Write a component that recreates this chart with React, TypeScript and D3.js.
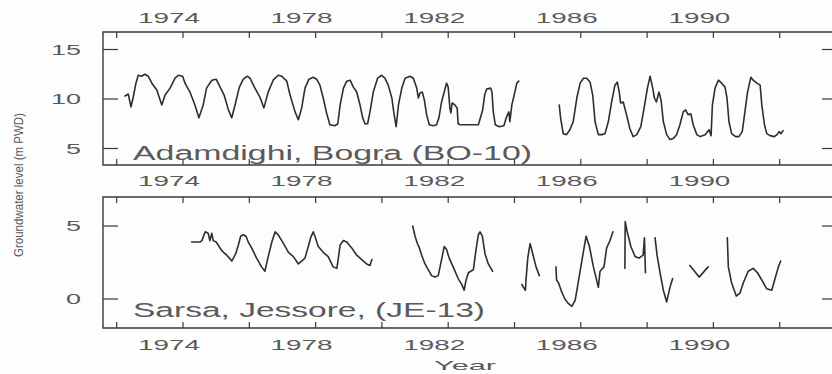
import React from 'react';
import * as d3 from 'd3';

// tick positions / labels
const yearTicks = [1972, 1974, 1976, 1978, 1980, 1982, 1984, 1986, 1988, 1990, 1992];
const yearLabels = [1974, 1978, 1982, 1986, 1990];
const bograTicks = [5, 10, 15];
const jessoreTicks = [0, 5];

// Adamdighi, Bogra (BO-10): [year, level m PWD]
const bograA: [number, number][] = [
  [1972.25, 10.3], [1972.35, 10.5], [1972.43, 9.2], [1972.5, 10.2], [1972.58, 11.6], [1972.65, 12.4],
  [1972.75, 12.3], [1972.85, 12.5], [1972.95, 12.3], [1973.06, 11.6], [1973.21, 10.9], [1973.36, 9.4],
  [1973.46, 10.4], [1973.61, 11.1], [1973.76, 12.1], [1973.86, 12.4], [1973.99, 12.3], [1974.06, 11.6],
  [1974.21, 10.7], [1974.36, 9.4], [1974.48, 8.1], [1974.61, 9.4], [1974.71, 11.1], [1974.87, 11.9],
  [1975.0, 12.0], [1975.12, 11.2], [1975.24, 10.4], [1975.37, 8.9], [1975.47, 8.1], [1975.57, 9.4],
  [1975.7, 11.2], [1975.82, 12.0], [1975.94, 12.3], [1976.02, 12.1], [1976.17, 11.1], [1976.32, 10.2],
  [1976.44, 9.1], [1976.57, 10.7], [1976.72, 11.9], [1976.87, 12.4], [1976.98, 12.3], [1977.13, 11.8],
  [1977.23, 10.4], [1977.38, 8.7], [1977.48, 7.9], [1977.58, 9.1], [1977.68, 11.1], [1977.8, 12.0],
  [1977.93, 12.2], [1978.03, 12.0], [1978.13, 11.4], [1978.23, 10.1], [1978.33, 8.6], [1978.43, 7.4],
  [1978.58, 7.3], [1978.67, 7.5], [1978.74, 9.4], [1978.84, 11.1], [1978.94, 11.8], [1979.04, 11.9],
  [1979.14, 11.2], [1979.24, 10.7], [1979.34, 9.4], [1979.42, 8.1], [1979.49, 7.5], [1979.57, 7.5],
  [1979.64, 8.7], [1979.74, 10.7], [1979.87, 12.1], [1979.99, 12.4], [1980.09, 12.1], [1980.19, 11.4],
  [1980.3, 10.1], [1980.37, 8.4], [1980.43, 7.2], [1980.5, 9.4], [1980.6, 11.1], [1980.7, 12.1],
  [1980.85, 12.3], [1980.95, 12.1], [1981.05, 11.1], [1981.1, 10.1], [1981.15, 10.6], [1981.22, 10.7],
  [1981.28, 9.9], [1981.35, 8.4], [1981.43, 7.4], [1981.55, 7.3], [1981.65, 7.4], [1981.72, 8.1],
  [1981.8, 9.7], [1981.88, 10.7], [1981.95, 11.6], [1982.0, 11.2], [1982.05, 9.1], [1982.08, 8.6],
  [1982.12, 9.6], [1982.2, 9.4], [1982.27, 9.1], [1982.3, 7.5], [1982.36, 7.4], [1982.91, 7.4],
  [1982.98, 8.2], [1983.04, 8.9], [1983.1, 10.4], [1983.16, 11.0], [1983.28, 11.1], [1983.32, 10.7],
  [1983.36, 8.7], [1983.42, 7.4], [1983.54, 7.2], [1983.68, 7.3], [1983.76, 8.2], [1983.83, 8.7],
  [1983.86, 7.7], [1983.92, 9.4], [1984.01, 10.7], [1984.07, 11.6], [1984.13, 11.8],
];

const bograB: [number, number][] = [
  [1985.35, 9.4], [1985.39, 8.1], [1985.47, 6.5], [1985.57, 6.4], [1985.67, 6.9], [1985.77, 7.7],
  [1985.88, 10.1], [1985.98, 11.6], [1986.08, 12.1], [1986.18, 12.1], [1986.28, 11.7], [1986.36, 10.4],
  [1986.43, 7.7], [1986.53, 6.4], [1986.63, 6.4], [1986.73, 6.5], [1986.83, 7.7], [1986.93, 9.7],
  [1987.03, 11.4], [1987.1, 11.7], [1987.16, 10.7], [1987.2, 9.6], [1987.28, 9.7], [1987.38, 8.4],
  [1987.48, 7.0], [1987.58, 6.2], [1987.69, 6.4], [1987.81, 7.2], [1987.91, 9.1], [1988.01, 11.1],
  [1988.09, 12.3], [1988.17, 11.1], [1988.22, 10.1], [1988.28, 9.7], [1988.36, 10.7], [1988.42, 9.9],
  [1988.49, 7.7], [1988.59, 6.4], [1988.69, 5.9], [1988.79, 6.0], [1988.89, 6.4], [1988.99, 7.4],
  [1989.09, 8.7], [1989.16, 8.9], [1989.24, 8.4], [1989.32, 8.5], [1989.39, 7.4], [1989.5, 6.4],
  [1989.6, 6.2], [1989.75, 6.4], [1989.87, 6.9], [1989.93, 6.3], [1989.97, 9.4], [1990.05, 11.1],
  [1990.15, 11.9], [1990.25, 11.6], [1990.35, 11.2], [1990.41, 10.1], [1990.47, 7.7], [1990.55, 6.5],
  [1990.67, 6.2], [1990.77, 6.2], [1990.87, 6.7], [1990.95, 8.7], [1991.03, 10.7], [1991.13, 12.2],
  [1991.2, 11.9], [1991.31, 11.6], [1991.41, 11.4], [1991.46, 9.4], [1991.54, 7.4], [1991.61, 6.5],
  [1991.71, 6.3], [1991.84, 6.2], [1991.92, 6.4], [1991.98, 6.7], [1992.04, 6.5], [1992.1, 6.8],
];

// Sarsa, Jessore (JE-13)
const jessoreA: [number, number][] = [
  [1974.26, 3.9], [1974.51, 3.9], [1974.57, 4.0], [1974.67, 4.6], [1974.76, 4.5], [1974.81, 4.0],
  [1974.87, 4.5], [1974.91, 4.0], [1975.0, 3.9], [1975.06, 3.7], [1975.14, 3.4], [1975.22, 3.2],
  [1975.32, 3.0], [1975.4, 2.8], [1975.47, 2.6], [1975.52, 2.8], [1975.59, 3.1], [1975.67, 3.7],
  [1975.74, 4.3], [1975.82, 4.4], [1975.9, 4.3], [1975.97, 3.9], [1976.07, 3.5], [1976.22, 2.8],
  [1976.37, 2.2], [1976.47, 1.9], [1976.57, 2.9], [1976.68, 3.9], [1976.78, 4.6], [1976.87, 4.4],
  [1976.98, 4.0], [1977.08, 3.6], [1977.18, 3.2], [1977.33, 2.9], [1977.48, 2.4], [1977.58, 2.6],
  [1977.68, 2.8], [1977.78, 3.6], [1977.85, 4.2], [1977.93, 4.6], [1977.98, 4.3], [1978.08, 3.6],
  [1978.23, 3.2], [1978.38, 2.9], [1978.53, 2.2], [1978.64, 2.1], [1978.68, 2.7], [1978.74, 3.7],
  [1978.84, 4.0], [1978.94, 3.9], [1979.09, 3.5], [1979.24, 3.0], [1979.39, 2.7], [1979.54, 2.4],
  [1979.64, 2.3], [1979.7, 2.7],
];
const jessoreB: [number, number][] = [
  [1980.93, 5.0], [1981.0, 4.3], [1981.07, 3.8], [1981.13, 3.5], [1981.2, 3.0], [1981.3, 2.4],
  [1981.4, 2.0], [1981.5, 1.6], [1981.6, 1.5], [1981.7, 1.6], [1981.8, 2.7], [1981.88, 3.6],
  [1981.95, 3.4], [1982.03, 2.8], [1982.15, 2.2], [1982.3, 1.4], [1982.41, 1.0], [1982.48, 0.6],
  [1982.54, 1.3], [1982.61, 1.8], [1982.68, 1.9], [1982.76, 2.0], [1982.84, 3.4], [1982.91, 4.4],
  [1982.96, 4.6], [1983.03, 4.3], [1983.11, 3.1], [1983.21, 2.4], [1983.34, 1.9],
];
const jessoreC: [number, number][] = [
  [1984.22, 1.0], [1984.27, 0.8], [1984.33, 0.6], [1984.35, 1.4], [1984.4, 2.8], [1984.47, 3.8],
  [1984.55, 3.1], [1984.65, 2.2], [1984.75, 1.6],
];
const jessoreD: [number, number][] = [
  [1985.25, 2.2], [1985.27, 1.3], [1985.33, 1.1], [1985.42, 0.5], [1985.52, 0.0], [1985.62, -0.3],
  [1985.73, -0.5], [1985.83, -0.1], [1985.92, 1.1], [1986.03, 2.6], [1986.16, 4.3], [1986.26, 3.6],
  [1986.38, 2.2], [1986.53, 0.8], [1986.58, 1.9], [1986.7, 2.2], [1986.78, 3.5], [1986.88, 4.0],
  [1986.97, 4.6],
];
const jessoreE: [number, number][] = [
  [1987.33, 2.1], [1987.34, 5.3], [1987.39, 4.7], [1987.51, 3.6], [1987.64, 2.9], [1987.76, 2.8],
  [1987.88, 3.0], [1987.92, 4.2], [1987.95, 1.8],
];
const jessoreF: [number, number][] = [
  [1988.24, 4.2], [1988.3, 3.0], [1988.39, 1.8], [1988.49, 0.6], [1988.59, -0.2], [1988.69, 0.8],
  [1988.77, 1.4],
];
const jessoreG: [number, number][] = [[1989.29, 2.3], [1989.57, 1.5], [1989.84, 2.2]];
const jessoreH: [number, number][] = [
  [1990.42, 4.2], [1990.45, 2.2], [1990.55, 1.1], [1990.69, 0.2], [1990.8, 0.4], [1990.9, 1.1],
  [1991.05, 1.9], [1991.2, 2.1], [1991.33, 1.8], [1991.46, 1.3], [1991.61, 0.7], [1991.76, 0.6],
  [1991.86, 1.4], [1991.96, 2.2], [1992.03, 2.6],
];

const FONT = "'Liberation Sans', Arial, sans-serif";
const INK = '#3a3a3a';
const TXT = '#5a5a5a';
const LEFT = 103;
const RIGHT = 846;

const x = d3.scaleLinear().domain([1972, 1992]).range([116.7, 779.7]);

const panels = [
  {
    key: 'bo', top: 32, bottom: 165,
    y: d3.scaleLinear().domain([5, 15]).range([148.5, 49.5]),
    ticks: bograTicks, segs: [bograA, bograB],
    label: 'Adamdighi, Bogra (BO-10)', labelBase: 160, labelLen: 399,
    topLabels: 23, bottomLabels: 186,
  },
  {
    key: 'je', top: 197, bottom: 328,
    y: d3.scaleLinear().domain([0, 5]).range([299, 226]),
    ticks: jessoreTicks, segs: [jessoreA, jessoreB, jessoreC, jessoreD, jessoreE, jessoreF, jessoreG, jessoreH],
    label: 'Sarsa, Jessore, (JE-13)', labelBase: 317, labelLen: 352,
    topLabels: null as number | null, bottomLabels: 350,
  },
];

const YearLabel = ({ yr, base }: { yr: number; base: number }) => (
  <text x={x(yr) - 14} y={base} textAnchor="middle" fontFamily={FONT} fontSize={15}
    fill={TXT} textLength={62} lengthAdjust="spacingAndGlyphs">{yr}</text>
);

export default function App() {
  return (
    <svg width={832} height={374} style={{ position: 'absolute', left: 0, top: 0, background: '#fdfdfd' }}>
      {panels.map(p => {
        const line = d3.line<[number, number]>().x(d => x(d[0])).y(d => p.y(d[1]));
        return (
          <g key={p.key}>
            {/* frame */}
            <path d={`M${RIGHT},${p.top}H${LEFT}V${p.bottom}H${RIGHT}`} fill="none" stroke={INK} strokeWidth={1.4} />
            {/* x ticks, inward on both borders */}
            {yearTicks.map(t => (
              <g key={t} stroke={INK} strokeWidth={1.2}>
                <line x1={x(t)} x2={x(t)} y1={p.top} y2={p.top + 6} />
                <line x1={x(t)} x2={x(t)} y1={p.bottom} y2={p.bottom - 6} />
              </g>
            ))}
            {/* y ticks left and right */}
            {p.ticks.map(t => (
              <g key={t}>
                <line x1={LEFT} x2={LEFT + 15} y1={p.y(t)} y2={p.y(t)} stroke={INK} strokeWidth={1.2} />
                <line x1={822} x2={832} y1={p.y(t)} y2={p.y(t)} stroke={INK} strokeWidth={1.2} />
                <text x={81} y={p.y(t)} dy="0.36em" textAnchor="end" fontFamily={FONT} fontSize={14}
                  fill={TXT} textLength={String(t).length * 15} lengthAdjust="spacingAndGlyphs">{t}</text>
              </g>
            ))}
            {p.segs.map((s, i) => (
              <path key={i} d={line(s) ?? ''} fill="none" stroke="#2e2e2e" strokeWidth={1.6}
                strokeLinejoin="round" strokeLinecap="round" />
            ))}
            <text x={133} y={p.labelBase} fontFamily={FONT} fontSize={20} fill={TXT}
              textLength={p.labelLen} lengthAdjust="spacingAndGlyphs">{p.label}</text>
            {p.topLabels !== null && yearLabels.map(yr => <YearLabel key={'t' + yr} yr={yr} base={p.topLabels as number} />)}
            {yearLabels.map(yr => <YearLabel key={'b' + yr} yr={yr} base={p.bottomLabels} />)}
          </g>
        );
      })}
      <text x={465} y={370} textAnchor="middle" fontFamily={FONT} fontSize={13} fill={TXT}
        textLength={62} lengthAdjust="spacingAndGlyphs">Year</text>
      <text transform="translate(23,185) rotate(-90)" textAnchor="middle" fontFamily={FONT} fontSize={13.5}
        fill={TXT} textLength={144} lengthAdjust="spacingAndGlyphs">Groundwater level (m PWD)</text>
    </svg>
  );
}
